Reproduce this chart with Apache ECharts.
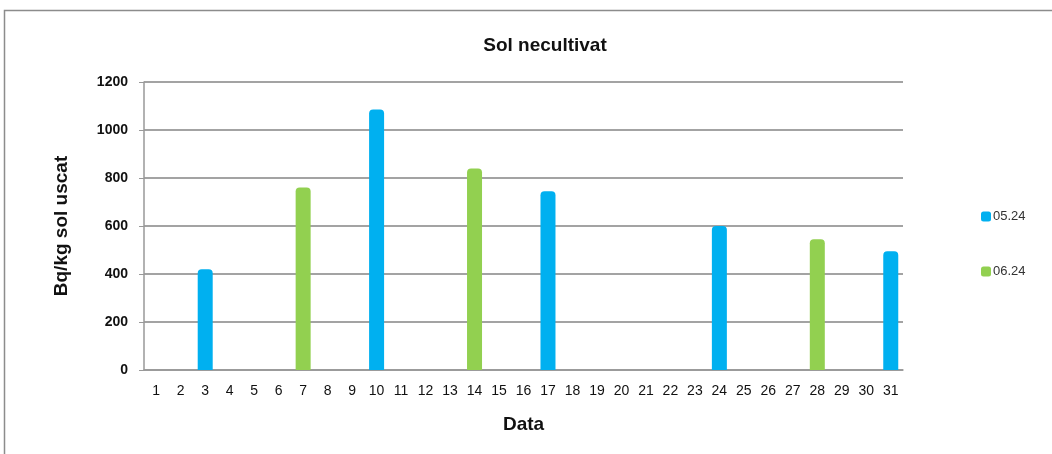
<!DOCTYPE html>
<html>
<head>
<meta charset="utf-8">
<script src="https://cdn.jsdelivr.net/npm/echarts@6/dist/echarts.min.js"></script>
<style>html,body{margin:0;padding:0;background:#fff;}#c{width:1052px;height:454px;}</style>
</head>
<body>
<div id="c"></div>
<script>
const days = ['1','2','3','4','5','6','7','8','9','10','11','12','13','14','15','16','17','18','19','20','21','22','23','24','25','26','27','28','29','30','31'];
const may24 = [null,null,420,null,null,null,null,null,null,1085,null,null,null,null,null,null,745,null,null,null,null,null,null,600,null,null,null,null,null,null,495];
const jun24 = [null,null,null,null,null,null,760,null,null,null,null,null,null,840,null,null,null,null,null,null,null,null,null,null,null,null,null,545,null,null,null];
const seriesNames = ['05.24','06.24'];

const chart = echarts.init(document.getElementById('c'), null, {renderer:'canvas'});
const font = 'Liberation Sans, Arial, sans-serif';
chart.setOption({
  animation:false,
  textStyle:{fontFamily:font},
  graphic:[{type:'rect',shape:{x:4.5,y:10.5,width:1100,height:500},style:{fill:'none',stroke:'#8c8c8c',lineWidth:1.5},silent:true}],
  title:{text:'Sol necultivat',left:540,textAlign:'center',top:31,textStyle:{fontFamily:font,fontSize:19,fontWeight:'bold',color:'#111'}},
  legend:{orient:'vertical',left:976,top:205,itemWidth:10,itemHeight:10,itemGap:42,
    icon:'roundRect',textStyle:{fontFamily:font,fontSize:13,color:'#333',padding:[0,0,0,-3]},data:seriesNames},
  grid:{left:144,right:149,top:82,bottom:84,containLabel:false},
  xAxis:{type:'category',data:days,
    axisLine:{lineStyle:{color:'#999',width:1.5}},axisTick:{show:false},
    axisLabel:{interval:0,fontFamily:font,fontSize:14,color:'#111',margin:14},
    name:'Data',nameLocation:'middle',nameGap:45,nameTextStyle:{fontFamily:font,fontSize:19,fontWeight:'bold',color:'#111'}},
  yAxis:{type:'value',min:0,max:1200,interval:200,
    axisLine:{show:true,lineStyle:{color:'#999',width:1.5}},axisTick:{show:true,length:5,lineStyle:{color:'#999'}},
    splitLine:{lineStyle:{color:'#a3a3a3',width:2}},
    axisLabel:{fontFamily:font,fontSize:14,fontWeight:'bold',color:'#111',margin:16,formatter:function(v){return String(v);}},
    name:'Bq/kg sol uscat',nameLocation:'middle',nameGap:73,nameRotate:90,
    nameTextStyle:{fontFamily:font,fontSize:19,fontWeight:'bold',color:'#111'}},
  series:[
    {name:seriesNames[0],type:'bar',data:may24,barWidth:15,barGap:'-100%',itemStyle:{color:'#00B0F0',borderRadius:[4,4,0,0]}},
    {name:seriesNames[1],type:'bar',data:jun24,barWidth:15,barGap:'-100%',itemStyle:{color:'#92D050',borderRadius:[4,4,0,0]}}
  ]
});
</script>
</body>
</html>
